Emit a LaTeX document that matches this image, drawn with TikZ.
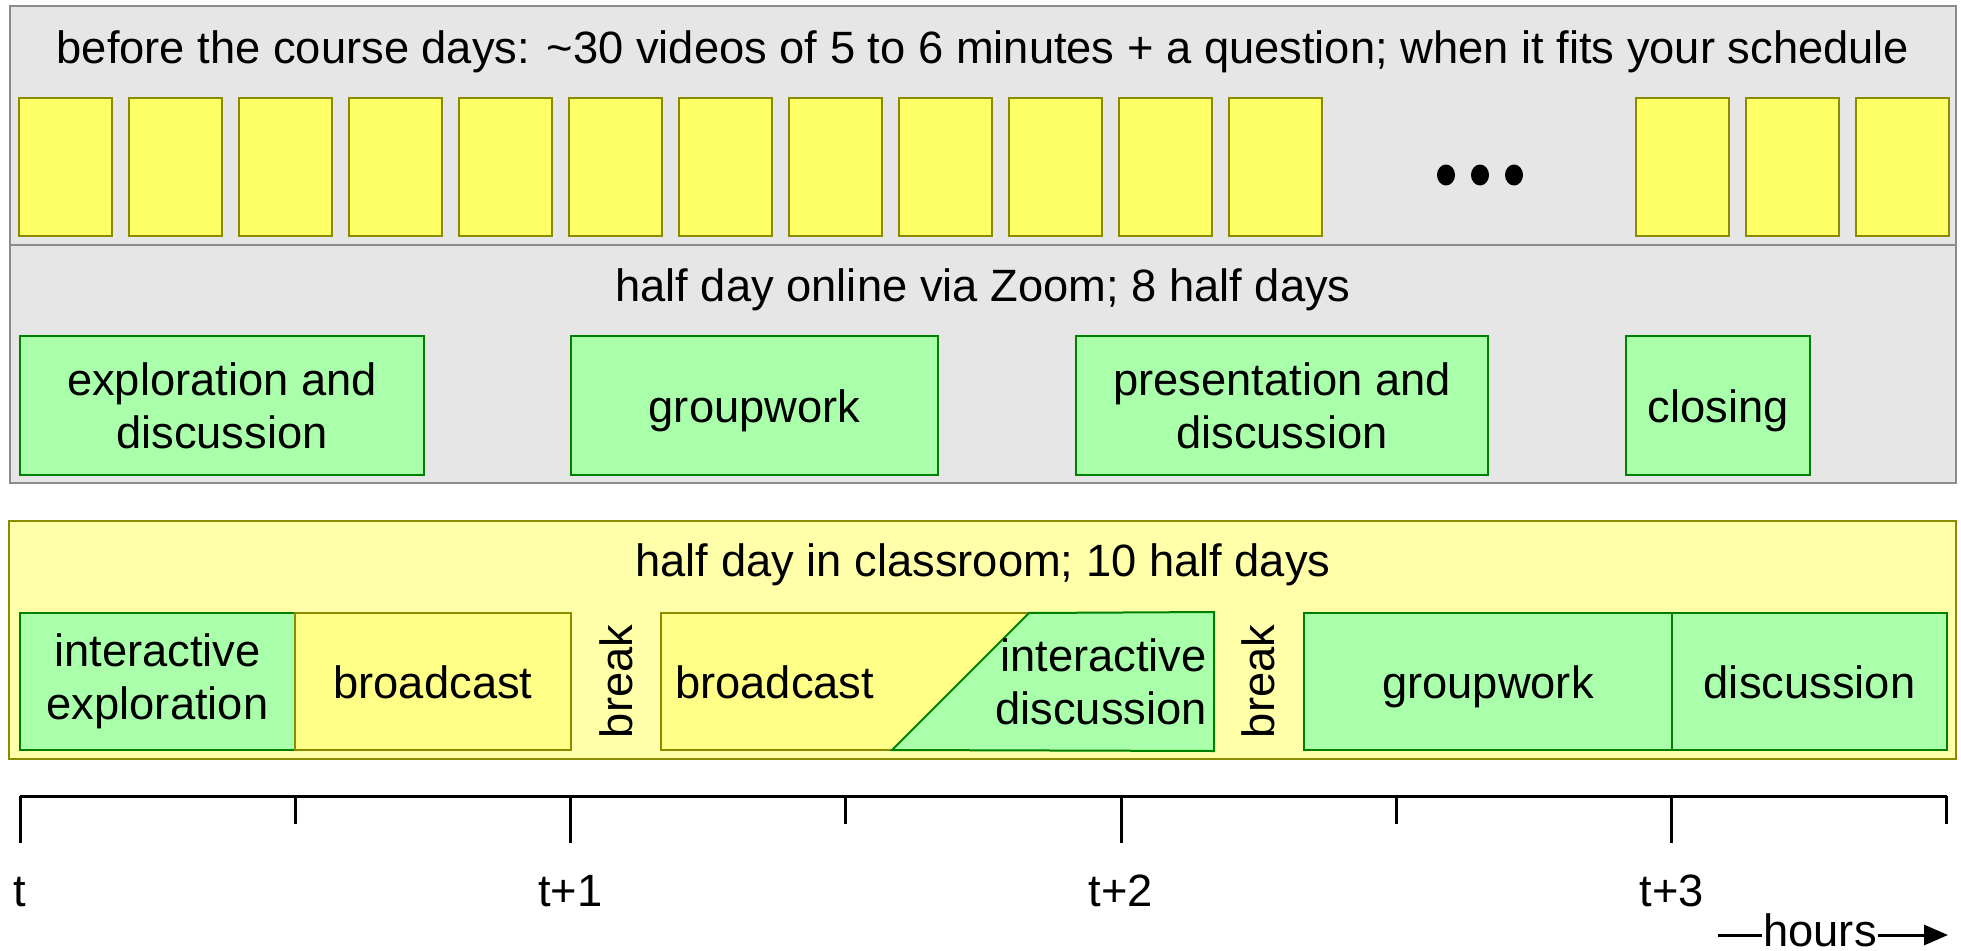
\documentclass[tikz,border=0pt]{standalone}
\usepackage{fontspec}
\setmainfont{Liberation Sans}
\usetikzlibrary{arrows, arrows.meta}
\definecolor{panelgray}{HTML}{E6E6E6}
\definecolor{panelline}{HTML}{8C8C8C}
\definecolor{videoyellow}{HTML}{FFFF66}
\definecolor{oliveline}{HTML}{8B8B00}
\definecolor{roomyellow}{HTML}{FFFFAA}
\definecolor{lectureyellow}{HTML}{FFFF88}
\definecolor{activitygreen}{HTML}{AAFFAA}
\definecolor{activityline}{HTML}{008000}
\tikzstyle{panel} = [rectangle, draw=panelline, fill=panelgray, line width=2pt, inner sep=0pt]
\tikzstyle{room} = [rectangle, draw=oliveline, fill=roomyellow, line width=2pt, inner sep=0pt]
\tikzstyle{video} = [rectangle, draw=oliveline, fill=videoyellow, line width=2pt, minimum width=93pt, minimum height=138pt, inner sep=0pt]
\tikzstyle{activity} = [rectangle, draw=activityline, fill=activitygreen, line width=2pt, minimum height=139pt, text centered, align=center, inner sep=0pt]
\tikzstyle{lecture} = [rectangle, draw=oliveline, fill=lectureyellow, line width=2pt, minimum height=137pt, inner sep=0pt]
\tikzstyle{oneline} = [text height=33pt, text depth=0pt]
\tikzstyle{arrow} = [line width=3pt,-{Triangle[length=24pt,width=20pt]}]

\begin{document}
\begin{tikzpicture}[x=1pt, y=-1pt, font=\fontsize{45.3}{53}\selectfont]
\useasboundingbox (0,0) rectangle (1961,950);
% video block
\node (videos) [panel, minimum width=1946pt, minimum height=239pt] at (983,125.5) {};
\node (videotitle) [oneline] at (983,47) {before the course days: \textasciitilde30 videos of 5 to 6 minutes + a question; when it fits your schedule};
\foreach \i in {0,...,11}
  \node (vid\i) [video] at (65.5+110*\i,167) {};
\foreach \i in {0,1,2}
  \node (last\i) [video] at (1682.5+110*\i,167) {};
\foreach \x in {1446,1480,1514}
  \fill (\x,175) ellipse (9pt and 10.5pt);
% online block
\node (online) [panel, minimum width=1946pt, minimum height=238pt] at (983,364) {};
\node (onlinetitle) [oneline] at (983,285) {half day online via Zoom; 8 half days};
\node (explore) [activity, minimum width=404pt] at (222,405.5) {exploration and\\discussion};
\node (group1) [activity, oneline, minimum width=367pt] at (754.5,405.5) {groupwork};
\node (present) [activity, minimum width=412pt] at (1282,405.5) {presentation and\\discussion};
\node (closing) [activity, oneline, minimum width=184pt] at (1718,405.5) {closing};
% classroom block
\node (classroom) [room, minimum width=1947pt, minimum height=238pt] at (982.5,640) {};
\node (roomtitle) [oneline] at (983,560) {half day in classroom; 10 half days};
\node (iexplore) [activity, minimum width=275pt, minimum height=137pt] at (157.5,681.5) {interactive\\exploration};
\node (bcast1) [lecture, oneline, minimum width=276pt] at (433,681.5) {broadcast};
\node (break1) [oneline, rotate=90] at (616,681.5) {break};
\node (bcast2) [lecture, minimum width=552pt] at (937,681.5) {};
\path [fill=activitygreen, draw=activityline, line width=2pt] (1029,613) -- (bcast2.north east) -- (bcast2.south east) -- (892,750) -- cycle;
\node (bcast2text) [oneline, anchor=west, inner sep=0pt] at ([xshift=15pt]bcast2.west) {broadcast};
\node (idiscuss) [anchor=east, align=right, inner sep=0pt] at ([xshift=-7pt]bcast2.east) {interactive\\discussion};
\node (break2) [oneline, rotate=90] at (1258,681.5) {break};
\node (group2) [activity, oneline, minimum width=368pt, minimum height=137pt] at (1488,681.5) {groupwork};
\node (discuss) [activity, oneline, minimum width=275pt, minimum height=137pt] at (1809.5,681.5) {discussion};
% time axis
\foreach \i in {0,...,7}
  \coordinate (tick\i) at (20+275.25*\i,796);
\draw [line width=3pt] (tick0) -- (tick7);
\foreach \i in {0,2,4,6}
  \draw [line width=3pt] (tick\i) -- ++(0,47);
\foreach \i in {1,3,5,7}
  \draw [line width=3pt] (tick\i) -- ++(0,28);
\foreach \i/\lab in {0/t,2/t+1,4/t+2,6/t+3}
  \node (time\i) [oneline] at ([yshift=-94pt]tick\i) {\lab};
\node (hours) [oneline, inner sep=1pt] at (1820,930) {hours};
\coordinate (hstart) at (1718,935);
\coordinate (hend) at (1948,935);
\draw [line width=3pt] (hstart) -- (hstart -| hours.west);
\draw [arrow] (hstart -| hours.east) -- (hend);
\end{tikzpicture}
\end{document}
